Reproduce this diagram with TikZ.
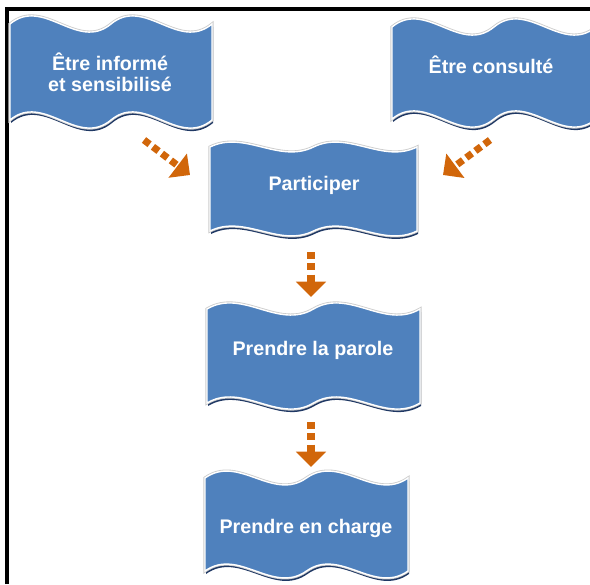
\documentclass[tikz,border=0pt]{standalone}
\usepackage{fontspec}
\setmainfont{Liberation Sans}
\usetikzlibrary{arrows.meta}

\definecolor{waveblue}{RGB}{79,129,189}
\definecolor{waveshadow}{RGB}{31,56,100}
\definecolor{flowgold}{RGB}{209,102,10}

% left, right, top, bottom, control offset
\newcommand{\wavepath}[5]{(#1,#3) .. controls ({#1+(#2-#1)/6},{#3-#5}) and ({#1+(#2-#1)/3},{#3+#5}) .. ({(#1+#2)/2},#3)
  .. controls ({#1+2*(#2-#1)/3},{#3-#5}) and ({#1+5*(#2-#1)/6},{#3+#5}) .. (#2,#3)
  -- (#2,#4) .. controls ({#2-(#2-#1)/6},{#4+#5}) and ({#2-(#2-#1)/3},{#4-#5}) .. ({(#1+#2)/2},#4)
  .. controls ({#2-2*(#2-#1)/3},{#4+#5}) and ({#2-5*(#2-#1)/6},{#4-#5}) .. (#1,#4) -- cycle}
\newcommand{\wavebox}[5]{%
  \fill[waveshadow, shift={(1,3)}] \wavepath{#1}{#2}{#3}{#4}{#5};
  \draw[gray!40, line width=2.2pt] \wavepath{#1}{#2}{#3}{#4}{#5};
  \filldraw[fill=waveblue, draw=white, line width=1pt] \wavepath{#1}{#2}{#3}{#4}{#5};
}

\begin{document}
\begin{tikzpicture}[x=0.025cm, y=-0.025cm,
    label/.style={text=white, align=center, font=\bfseries\fontsize{14}{15}\selectfont},
    flow/.style={flowgold, line width=5pt, dash pattern=on 5pt off 3pt, -{Triangle[width=21pt,length=11pt]}}]
        \useasboundingbox (0,0) rectangle (590,584);
        \draw[line width=2.8pt] (7,584) -- (7,9) -- (590,9);

        \wavebox{10}{212}{24}{120}{28}
        \wavebox{392}{596}{27}{119}{28}
        \wavebox{210}{417}{147}{231}{17}
        \wavebox{207}{420}{309}{403}{21}
        \wavebox{205}{408}{478}{571}{24}

        \node[label] (inform) at (110,72) {Être informé\\et sensibilisé};
        \node[label] (consult) at (491,65) {Être consulté};
        \node[label] (part) at (314,185) {Participer};
        \node[label] (parole) at (313,350) {Prendre la parole};
        \node[label] (charge) at (306,528) {Prendre en charge};

        \coordinate (inform-out) at (144,140);
        \coordinate (part-in-l) at (190,175);
        \coordinate (consult-out) at (490,140);
        \coordinate (part-in-r) at (443,175);
        \coordinate (part-out) at (311,252);
        \coordinate (parole-in) at (311,297);
        \coordinate (parole-out) at (311,422);
        \coordinate (charge-in) at (311,467);

        \draw[flow] (inform-out) -- (part-in-l);
        \draw[flow] (consult-out) -- (part-in-r);
        \draw[flow] (part-out) -- (parole-in);
        \draw[flow] (parole-out) -- (charge-in);
    \end{tikzpicture}
\end{document}
